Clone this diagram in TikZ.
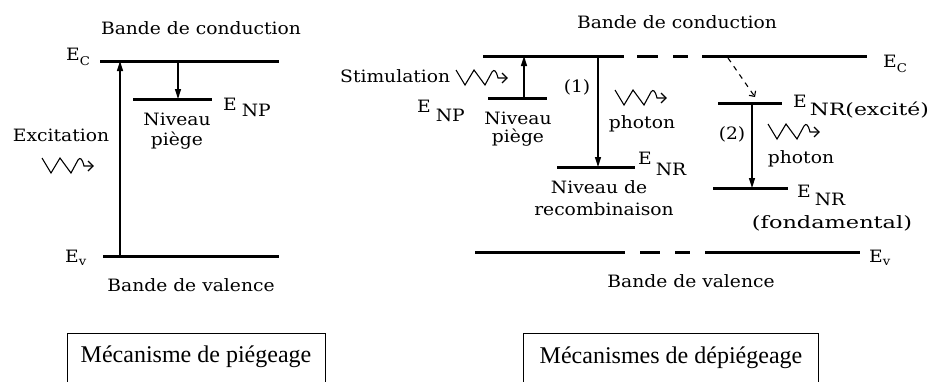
\documentclass[tikz,border=0pt]{standalone}
\usepackage{fontspec}
\setmainfont{DejaVu Serif}[FakeStretch=1.1]
\newfontfamily\boxfont{Liberation Serif}
\usetikzlibrary{arrows.meta}

% level label: E followed by a lowered index
\newcommand\Elev[3]{E\hspace{#3}\raisebox{-#2}{#1}}

\begin{document}
\begin{tikzpicture}[x=1pt,y=-1pt,
  level/.style={line width=3pt},
  trans/.style={line width=1.4pt,-{Triangle[length=10pt,width=6pt]}},
  relax/.style={line width=1.1pt,dash pattern=on 5pt off 5pt,-{Straight Barb[length=4pt,width=8pt]}},
  lbl/.style={inner sep=0pt,font=\fontsize{17}{20}\selectfont},
  framebox/.style={draw,line width=1.4pt,inner sep=0pt,anchor=north west},
  boxtext/.style={inner sep=0pt,font=\boxfont\fontsize{24}{28}\selectfont},
  photonwave/.pic={
    \draw[line width=1.1pt,line join=miter]
      (0,0) -- (9,15) -- (18,0) -- (29,15) -- (36,2)
      .. controls (38,-1) and (40,0) .. (42,8) -- (51,8);
    \draw[line width=1.1pt] (46,3) -- (51,8) -- (46,13);
  }]
\useasboundingbox (0,0) rectangle (931,381);

% ---------------- trapping ----------------
\coordinate (LcA) at (100,61);  \coordinate (LcB) at (279,61);
\coordinate (LvA) at (103,256); \coordinate (LvB) at (279,256);
\coordinate (LnA) at (133,99);  \coordinate (LnB) at (212,99);
\draw[level] (LcA) -- (LcB);
\draw[level] (LvA) -- (LvB);
\draw[level] (LnA) -- (LnB);

\node[lbl,anchor=base] (Lcond) at (201,34) {Bande de conduction};
\node[lbl,anchor=base] (Lval) at (191,291) {Bande de valence};
\node[lbl,anchor=base west] (LEc) at (66,60) {E\raisebox{-5pt}{\fontsize{12}{12}\selectfont C}};
\node[lbl,anchor=base west] (LEv) at (65,262) {E\raisebox{-3pt}{\fontsize{12}{12}\selectfont v}};
\node[lbl,anchor=base west] (LEnp) at (223,110) {\Elev{NP}{6pt}{5pt}};
\node[lbl,anchor=base] (Lniv) at (177,125) {Niveau};
\node[lbl,anchor=base] (Lpie) at (177,145) {piège};
\node[lbl,anchor=base] (Lexc) at (61,141) {Excitation};
\pic at (42,158) {photonwave};

\coordinate (Lx0) at (120,256); \coordinate (Lx1) at (120,61);
\coordinate (Lt0) at (178,61);  \coordinate (Lt1) at (178,99);
\draw[trans] (Lx0) -- (Lx1);
\draw[trans] (Lt0) -- (Lt1);

% ---------------- detrapping ----------------
\node[lbl,anchor=base] (Rcond) at (677,28) {Bande de conduction};
\node[lbl,anchor=base] (Rval) at (691,287) {Bande de valence};

\coordinate (Rc1) at (483,56); \coordinate (Rc2) at (624,56);
\coordinate (Rc3) at (637,56); \coordinate (Rc4) at (658,56);
\coordinate (Rc5) at (673,56); \coordinate (Rc6) at (688,56);
\coordinate (Rc7) at (702,56); \coordinate (Rc8) at (867,56);
\draw[level] (Rc1) -- (Rc2) (Rc3) -- (Rc4) (Rc5) -- (Rc6) (Rc7) -- (Rc8);

\coordinate (Rv1) at (475,252); \coordinate (Rv2) at (625,252);
\coordinate (Rv3) at (640,252); \coordinate (Rv4) at (660,252);
\coordinate (Rv5) at (675,252); \coordinate (Rv6) at (690,252);
\coordinate (Rv7) at (705,252); \coordinate (Rv8) at (860,252);
\draw[level] (Rv1) -- (Rv2) (Rv3) -- (Rv4) (Rv5) -- (Rv6) (Rv7) -- (Rv8);

\node[lbl,anchor=base west] (REc) at (883,67) {E\raisebox{-5pt}{\fontsize{12}{12}\selectfont C}};
\node[lbl,anchor=base west] (REv) at (869,262) {E\raisebox{-3pt}{\fontsize{12}{12}\selectfont v}};

% trap level and stimulation
\coordinate (RnA) at (488,98); \coordinate (RnB) at (547,98);
\draw[level] (RnA) -- (RnB);
\node[lbl,anchor=base west] (Rstim) at (340,82) {Stimulation};
\pic at (456,70) {photonwave};
\coordinate (Rs0) at (524,98); \coordinate (Rs1) at (524,56);
\draw[trans] (Rs0) -- (Rs1);
\node[lbl,anchor=base west] (REnp) at (417,112) {\Elev{NP}{9pt}{5pt}};
\node[lbl,anchor=base] (Rniv) at (518,124) {Niveau};
\node[lbl,anchor=base] (Rpie) at (518,142) {piège};

% path (1)
\node[lbl,anchor=base] (R1) at (577,92) {(1)};
\coordinate (Rr0) at (598,56); \coordinate (Rr1) at (598,167);
\draw[trans] (Rr0) -- (Rr1);
\coordinate (RrA) at (557,167); \coordinate (RrB) at (635,167);
\draw[level] (RrA) -- (RrB);
\node[lbl,anchor=base west] (REnr) at (638,164) {\Elev{NR}{11pt}{4pt}};
\pic at (615,90) {photonwave};
\node[lbl,anchor=base] (Rph1) at (642,128) {photon};
\node[lbl,anchor=base] (Rrec1) at (599,193) {Niveau de};
\node[lbl,anchor=base] (Rrec2) at (604,215) {recombinaison};

% path (2)
\coordinate (Rd0) at (728,58); \coordinate (Rd1) at (755,97);
\draw[relax] (Rd0) -- (Rd1);
\coordinate (ReA) at (718,103); \coordinate (ReB) at (782,103);
\draw[level] (ReA) -- (ReB);
\node[lbl,anchor=base west] (REnre) at (793,107) {\Elev{\scalebox{1.17}[1]{NR(excité)}}{8pt}{3pt}};
\node[lbl,anchor=base] (R2) at (732,139) {(2)};
\coordinate (Rf0) at (752,103); \coordinate (Rf1) at (752,188);
\draw[trans] (Rf0) -- (Rf1);
\coordinate (RfA) at (713,188); \coordinate (RfB) at (788,188);
\draw[level] (RfA) -- (RfB);
\pic at (768,124) {photonwave};
\node[lbl,anchor=base] (Rph2) at (801,163) {photon};
\node[lbl,anchor=base west] (REnrf) at (797,197) {\Elev{NR}{8pt}{4pt}};
\node[lbl,anchor=base] (Rfond) at (832,228) {\scalebox{1.2}[1]{(fondamental)}};

% ---------------- captions ----------------
\node[framebox,minimum width=258pt,minimum height=70pt] (Lbox) at (67,333) {};
\node[boxtext] (Ltxt) at (196,357) {Mécanisme de piégeage};
\node[framebox,minimum width=295pt,minimum height=70pt] (Rbox) at (523,333) {};
\node[boxtext] (Rtxt) at (671,358) {Mécanismes de dépiégeage};
\end{tikzpicture}
\end{document}
